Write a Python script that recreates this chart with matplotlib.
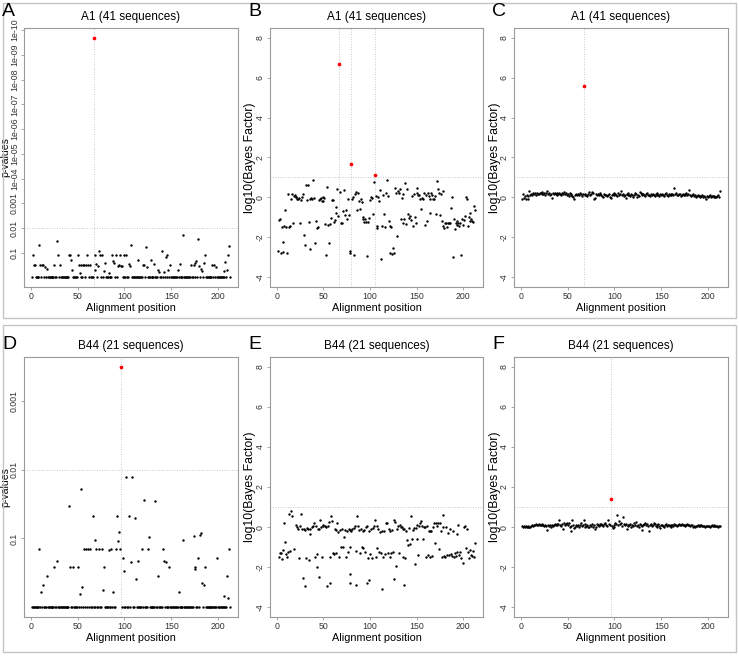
import matplotlib
matplotlib.use("Agg")
import matplotlib.pyplot as plt
from matplotlib.patches import Rectangle
import numpy as np

plt.rcParams['font.family'] = ['Liberation Sans', 'DejaVu Sans']

W, H = 739, 656

positions = np.arange(1, 214)

# ---- panel A: p-values, A1 (41 sequences); positions not listed have p = 1
a_pos = [2, 3, 4, 9, 10, 12, 13, 15, 17, 25, 28, 29, 31, 41, 42, 43, 44, 50, 51, 52,
         54, 56, 57, 59, 60, 61, 63, 67, 68, 69, 70, 72, 73, 74, 76, 78, 79, 83, 87, 88,
         89, 91, 93, 94, 95, 96, 97, 99, 102, 105, 106, 107, 115, 120, 121, 123, 124, 128, 132, 136,
         137, 140, 142, 144, 145, 147, 149, 157, 159, 163, 171, 174, 176, 177, 179, 180, 182, 183, 185, 186,
         194, 196, 198, 206, 208, 210, 211, 212]
a_pval = [0.13, 0.32, 0.32, 0.047, 0.32, 0.32, 0.32, 0.37, 0.44, 0.32, 0.035, 0.13, 0.32, 0.13, 0.13, 0.2, 0.48, 0.13, 0.32, 0.69,
          0.32, 0.32, 0.32, 0.32, 0.13, 0.32, 0.32, 2e-10, 0.13, 0.51, 0.28, 0.35, 0.089, 0.13, 0.13, 0.56, 0.25, 0.69, 0.13, 0.22,
          0.25, 0.13, 0.34, 0.32, 0.13, 0.34, 0.34, 0.13, 0.13, 0.28, 0.34, 0.047, 0.2, 0.32, 0.32, 0.059, 0.37, 0.19, 0.3, 0.51,
          0.63, 0.089, 0.63, 0.15, 0.13, 0.51, 0.32, 0.51, 0.28, 0.02, 0.32, 0.32, 0.25, 0.22, 0.028, 0.35, 0.44, 0.56, 0.25, 0.13,
          0.32, 0.32, 0.39, 0.56, 0.23, 0.51, 0.13, 0.056]

# ---- panel D: p-values, B44 (21 sequences); positions not listed have p = 1
d_pos = [9, 11, 13, 17, 25, 28, 41, 42, 45, 50, 52, 54, 55, 57, 59, 61, 63, 66, 68, 70,
         73, 76, 77, 78, 83, 86, 88, 91, 92, 93, 94, 95, 96, 98, 99, 102, 105, 107, 108, 111,
         112, 115, 119, 121, 125, 126, 133, 136, 141, 142, 144, 148, 158, 163, 174, 175, 176, 179, 181, 182,
         183, 185, 186, 199, 207, 210, 211, 212]
d_pval = [0.14, 0.59, 0.48, 0.35, 0.26, 0.21, 0.034, 0.26, 0.26, 0.26, 0.65, 0.019, 0.51, 0.14, 0.14, 0.14, 0.14, 0.047, 0.105, 0.14,
          0.14, 0.14, 0.56, 0.26, 0.145, 0.14, 0.59, 0.14, 0.047, 0.11, 0.081, 0.14, 3.2e-4, 0.195, 0.3, 0.0126, 0.047, 0.22, 0.0126, 0.05,
          0.39, 0.21, 0.14, 0.028, 0.14, 0.095, 0.029, 0.35, 0.14, 0.21, 0.22, 0.26, 0.59, 0.105, 0.093, 0.26, 0.28, 0.195, 0.089, 0.083,
          0.45, 0.47, 0.26, 0.195, 0.68, 0.35, 0.74, 0.14]

# ---- panel B: log10(Bayes Factor), A1, one value per position 1..213
b_bf = [-2.7, -1.15, -1.1, -2.8, -1.5, -2.25, -2.75, -1.45, -0.65, -1.5,
        -2.77, 0.15, -1.5, -1.45, -0.1, 0.15, -1.27, 0.05, 0.12, 0.03,
        0.0, -0.1, -0.07, -0.05, -1.27, -0.13, 0.03, 0.15, -1.9, -2.4,
        0.6, -0.13, 0.6, -1.23, -2.57, -0.07, -0.02, -0.07, 0.87, -0.02,
        -2.27, -1.18, -1.52, -1.47, -0.15, -0.07, -0.02, -0.18, 0.0, -0.18,
        -0.05, -1.35, -2.9, 0.5, -1.37, -2.27, -1.33, -1.05, -0.15, -0.15,
        -1.25, -1.13, -0.5, -0.8, 0.43, -0.92, 6.7, 0.27, -1.3, -1.27,
        -0.7, 0.35, -0.9, -0.63, -1.07, -0.1, -0.9, -2.68, -2.77, 1.65,
        -0.1, 0.03, -2.9, 0.18, 0.27, -0.63, 0.2, -0.18, -0.6, -0.07,
        -0.25, -0.97, -1.07, -1.23, -1.1, -1.25, -2.93, -1.23, -1.03, -0.13,
        0.03, -0.05, -0.85, 0.77, 1.1, 0.07, -1.43, -1.53, 0.03, -0.18,
        0.35, -3.1, -1.43, 0.1, -0.85, -1.5, 0.23, 0.87, 0.07, -1.18,
        -1.45, -2.77, -1.47, -2.85, -2.52, -2.77, 0.45, 0.23, -1.93, 0.32,
        0.2, 0.43, -1.07, -0.02, -1.3, 0.15, -1.07, 0.73, -1.35, 0.4,
        -0.85, -1.02, -0.93, -1.15, 0.07, -1.43, 0.15, -1.0, -1.3, 0.48,
        0.23, 0.1, 0.12, -0.1, -0.6, -0.02, -0.1, 0.2, -1.4, 0.1,
        -1.18, 0.23, 0.07, -0.77, -0.1, 0.23, 0.1, -0.07, -0.1, 0.07,
        -0.85, 0.82, 0.4, 0.23, -0.9, 0.15, -1.18, 0.32, -1.43, -1.52,
        -1.27, -1.27, -1.47, -1.3, -1.27, -1.27, -0.52, 0.0, -2.98, -1.1,
        -1.57, -1.27, -1.18, -1.38, -1.3, -1.43, -1.3, -2.9, -1.07, -1.4,
        -1.15, -0.93, 0.02, -0.07, -1.43, -0.98, -1.2, -0.77, -1.1, -1.18,
        -1.23, -0.43, -0.63]

# ---- panel C: log10(Bayes Factor), A1
c_bf = [-0.08, 0.15, -0.05, 0.05, -0.1, 0.1, -0.08, 0.05, 0.3, 0.12,
        0.18, 0.1, 0.2, 0.15, 0.22, 0.12, 0.2, 0.18, 0.15, 0.22,
        0.2, 0.15, 0.25, 0.18, 0.2, 0.12, 0.22, 0.3, 0.15, 0.2,
        0.1, 0.18, -0.05, 0.2, 0.15, 0.22, 0.18, 0.12, 0.2, 0.15,
        0.22, 0.18, 0.12, 0.2, 0.15, 0.25, 0.18, 0.2, 0.12, 0.15,
        0.05, 0.2, 0.1, 0.15, 0.05, 0.0, -0.08, 0.1, 0.15, 0.12,
        0.18, 0.1, 0.2, 0.15, 0.05, 0.18, 5.6, 0.12, 0.15, 0.1,
        0.05, 0.18, 0.25, 0.12, 0.15, 0.28, 0.2, -0.1, -0.05, 0.15,
        0.12, 0.18, 0.1, 0.15, 0.2, 0.12, 0.08, 0.0, 0.15, 0.1,
        0.12, 0.05, 0.1, 0.15, 0.0, -0.05, 0.12, 0.15, 0.1, 0.2,
        0.15, 0.1, 0.05, 0.2, 0.12, 0.18, 0.3, 0.1, 0.15, 0.05,
        0.1, -0.05, 0.15, 0.2, 0.1, 0.12, 0.05, 0.15, 0.1, 0.0,
        0.1, 0.22, 0.15, 0.0, 0.12, 0.05, 0.28, 0.2, 0.15, 0.1,
        0.18, 0.12, 0.05, 0.15, 0.2, 0.1, 0.12, 0.08, 0.15, 0.1,
        0.18, 0.12, 0.05, 0.15, 0.1, 0.2, 0.12, 0.05, 0.15, 0.1,
        0.18, 0.12, 0.05, 0.15, 0.2, 0.1, 0.08, 0.15, 0.1, 0.18,
        0.12, 0.15, 0.1, 0.45, 0.15, 0.2, 0.12, 0.1, 0.18, 0.15,
        0.05, 0.12, 0.18, 0.1, 0.15, 0.12, 0.2, 0.1, 0.15, 0.35,
        0.12, 0.05, 0.1, 0.15, 0.08, 0.12, 0.0, 0.05, 0.1, 0.05,
        0.0, 0.08, 0.05, 0.1, 0.02, 0.05, 0.0, -0.1, 0.05, 0.0,
        0.05, 0.1, 0.02, 0.05, 0.08, 0.0, 0.05, 0.02, 0.0, 0.05,
        0.1, 0.0, 0.3]

# ---- panel E: log10(Bayes Factor), B44
e_pos = [8, 13, 15, 16, 21, 22, 23, 25, 26, 27, 29, 30, 32, 33, 35, 36, 38, 39, 40, 42,
         44, 45, 46, 47, 49, 50, 52, 53, 55, 56, 58, 59, 62, 63, 65, 66, 68, 70, 72, 73,
         75, 77, 78, 80, 81, 83, 84, 86, 87, 88, 90, 92, 94, 96, 97, 99, 101, 103, 104, 105,
         107, 109, 111, 113, 115, 117, 118, 120, 122, 124, 126, 127, 129, 130, 132, 133, 134, 136, 137, 139,
         142, 144, 146, 147, 149, 151, 153, 154, 155, 156, 158, 159, 161, 163, 165, 166, 168, 169, 171, 172,
         173, 175, 176, 178, 179, 182, 184, 186, 189, 194, 195, 201, 202, 204,
         2, 3, 4, 5, 7, 9, 10, 12, 11, 14, 18, 24, 31, 34, 41, 43, 48, 57, 60, 61,
         64, 67, 69, 71, 74, 76, 79, 85, 89, 91, 93, 95, 98, 100, 102, 106, 108, 110, 112, 114,
         116, 119, 121, 123, 125, 128, 131, 135, 138, 140, 141, 143, 145, 148, 150, 152, 157, 160, 162, 164,
         167, 170, 174, 177, 180, 181, 183, 185, 187, 188, 190, 191, 192, 193, 196, 197, 198, 200, 203, 205,
         206, 207, 209, 210, 211, 212, 213,
         28, 30, 43, 45, 54, 57, 78, 79, 85, 97, 99, 113, 126, 137]
e_bf = [0.23, 0.67, 0.79, 0.53, 0.12, 0.0, -0.1, 0.07, 0.67, -0.1, -0.1, -0.13, -0.05, -0.1, -0.33, -0.1, 0.03, 0.07, 0.2, 0.07,
        -0.1, -0.1, 0.37, 0.03, 0.08, 0.12, 0.07, 0.03, 0.07, 0.28, 0.53, 0.33, -0.1, -0.13, 0.23, -0.22, -0.13, -0.1, -0.47, -0.13,
        -0.17, -0.1, -0.13, -0.17, -0.1, -0.05, 0.07, 0.53, 0.07, -0.13, -0.1, -0.17, -0.13, 0.03, 0.07, -0.17, -0.1, -0.05, 0.07, 0.37,
        0.07, -0.1, -0.22, -0.17, -0.17, 0.2, 0.23, -0.07, -0.17, -0.13, 0.37, 0.28, -0.1, 0.07, 0.12, 0.03, 0.0, -0.1, -0.1, -0.17,
        -0.05, 0.53, -0.13, -0.05, -0.05, 0.12, 0.07, 0.23, 0.33, 0.07, 0.0, 0.03, 0.07, -0.17, -0.17, -0.17, 0.0, 0.2, 0.23, 0.07,
        0.23, 0.23, -0.17, 0.0, 0.62, 0.0, -0.3, -0.1, -0.17, -0.35, 0.12, 0.03, 0.07, -0.08,
        -1.47, -1.3, -1.27, -1.59, -1.13, -0.72, -1.34, -1.22, -1.47, -1.19, -1.09, -1.52, -1.52, -1.64, -1.5, -1.34, -1.5, -1.5, -1.3, -1.34,
        -1.3, -1.5, -0.97, -0.97, -1.5, -1.24, -1.0, -1.17, -1.3, -0.97, -1.05, -1.22, -1.54, -1.34, -1.54, -1.47, -1.05, -1.24, -1.3, -1.5,
        -1.34, -1.27, -1.5, -1.3, -1.22, -1.94, -1.3, -1.5, -1.55, -0.63, -0.89, -0.84, -0.6, -1.84, -0.6, -1.39, -0.6, -1.5, -1.39, -1.47,
        -1.44, -0.8, -1.1, -1.47, -1.44, -1.5, -1.4, -1.39, -1.34, -1.44, -1.5, -1.3, -1.44, -1.22, -1.39, -1.22, -1.55, -1.8, -1.05, -1.22,
        -1.55, -1.14, -1.39, -1.44, -1.2, -1.47, -0.77,
        -2.52, -2.94, -1.97, -2.5, -2.94, -2.8, -2.36, -2.77, -2.89, -2.77, -2.64, -3.06, -2.59, -2.89]

# ---- panel F: log10(Bayes Factor), B44
f_bf = [0.05, 0.02, 0.08, 0.0, 0.05, 0.03, 0.0, 0.05, 0.02, 0.0,
        0.05, 0.1, 0.08, 0.12, 0.1, 0.15, 0.12, 0.1, 0.15, 0.12,
        0.1, 0.15, 0.12, 0.1, 0.08, 0.12, 0.05, -0.15, 0.1, 0.05,
        0.12, 0.0, 0.1, 0.05, 0.12, 0.15, 0.1, 0.18, 0.12, 0.15,
        0.38, 0.12, 0.05, 0.15, -0.1, 0.2, 0.1, 0.15, 0.22, 0.12,
        0.2, 0.0, -0.18, 0.05, 0.38, 0.1, -0.05, 0.0, 0.12, 0.05,
        0.1, 0.0, 0.12, 0.2, 0.05, 0.1, 0.35, 0.0, 0.15, 0.05,
        0.1, 0.02, 0.0, 0.12, 0.05, 0.15, 0.02, 0.1, -0.1, 0.0,
        0.15, 0.12, 0.05, 0.18, 0.1, 0.15, 0.12, 0.05, 0.15, 0.2,
        0.1, 0.05, 0.35, 0.15, 0.1, 1.4, 0.05, -0.05, 0.02, 0.1,
        0.2, 0.15, 0.58, 0.1, 0.3, 0.15, 0.2, 0.05, 0.52, 0.15,
        0.1, 0.15, -0.1, 0.12, 0.05, 0.1, 0.15, 0.02, 0.1, 0.05,
        0.2, 0.12, 0.25, 0.05, 0.1, 0.02, 0.15, 0.1, 0.05, -0.15,
        0.1, 0.15, 0.2, 0.1, 0.15, 0.05, -0.18, 0.1, 0.15, 0.05,
        0.1, 0.2, 0.15, 0.05, 0.02, 0.1, 0.15, 0.05, -0.05, 0.1,
        0.12, 0.05, 0.02, 0.1, 0.15, 0.05, 0.12, 0.1, 0.05, 0.02,
        0.1, 0.12, 0.05, 0.15, 0.1, 0.12, 0.08, 0.1, 0.15, 0.12,
        0.1, 0.15, 0.12, 0.1, 0.05, 0.12, 0.1, 0.15, 0.12, 0.1,
        0.05, 0.12, 0.1, 0.0, 0.05, 0.02, 0.08, 0.05, 0.1, 0.08,
        0.05, 0.12, 0.1, 0.05, 0.08, 0.05, 0.02, 0.05, 0.08, 0.05,
        0.05, 0.02, 0.08, 0.12, 0.05, 0.08, 0.1, 0.05, 0.08, 0.05,
        0.02, 0.05, 0.08]

titles = ["A1 (41 sequences)", "B44 (21 sequences)"]
letters = ["A", "B", "C", "D", "E", "F"]
p_ticklabels = ["0.1", "0.01", "0.001", "1e-04", "1e-05", "1e-06", "1e-07", "1e-08", "1e-09", "1e-10"]

fig = plt.figure(figsize=(W / 100, H / 100), dpi=100)

# grey frames round each row
for top, bot in [(3, 318), (325, 652)]:
    fig.patches.append(Rectangle((3 / W, 1 - bot / H), 733 / W, (bot - top) / H,
                                 transform=fig.transFigure, fill=False,
                                 edgecolor="#c4c4c4", linewidth=1.0))

col_lr = [(24, 238), (270, 483), (514, 728)]
row_tb = [(28, 287), (357, 617)]
letter_base = [16, 349]   # baseline (px from top) of the panel letters
GREY = "#9a9a9a"


def full_p(pos, pval):
    # every position gets p = 1 unless listed
    p = np.ones(len(positions))
    for x, v in zip(pos, pval):
        p[x - 1] = v
    return -np.log10(p)


def make_ax(r, c):
    l, rgt = col_lr[c]
    t, b = row_tb[r]
    ax = fig.add_axes([l / W, 1 - b / H, (rgt - l) / W, (b - t) / H])
    for s in ax.spines.values():
        s.set_color(GREY)
        s.set_linewidth(0.8)
    ax.tick_params(colors=GREY, labelcolor="#333333", labelsize=6.3, length=2.5, width=0.6, pad=1.2)
    ax.set_xlim(-7.48, 221.48)
    ax.set_xticks([0, 50, 100, 150, 200])
    ax.set_xlabel("Alignment position", fontsize=7.8, labelpad=1)
    fig.text(((l + rgt) / 2) / W, 1 - (t - 11) / H, titles[r], ha="center", va="center", fontsize=8.5)
    fig.text((l - 22) / W, 1 - letter_base[r] / H, letters[r * 3 + c], ha="left", va="baseline", fontsize=14)
    return ax


def draw(ax, x, y, thr):
    x = np.asarray(x)
    y = np.asarray(y)
    sig = y > thr
    ax.axhline(thr, color="#b8b8b8", linestyle=(0, (1, 2)), linewidth=0.6, zorder=1)
    for xv in x[sig]:
        ax.axvline(xv, color="#b8b8b8", linestyle=(0, (1, 2)), linewidth=0.6, zorder=1)
    ax.scatter(x[~sig], y[~sig], s=3, color="black", linewidths=0, zorder=3)
    ax.scatter(x[sig], y[sig], s=7, color="red", linewidths=0, zorder=4)


def p_axis(ax, L):
    top = L.max()
    ax.set_ylim(-0.04 * top, top * 1.04)
    ticks = [k for k in range(1, 11) if k <= top * 1.04]
    ax.set_yticks(ticks)
    ax.set_yticklabels(p_ticklabels[:len(ticks)], rotation=90, va="center")
    ax.set_ylabel("p-values", fontsize=7.6)
    ax.yaxis.set_label_coords(-0.062, 0.5)


def bf_axis(ax, xc):
    ax.set_ylim(-4.48, 8.48)
    ax.set_yticks([-4, -2, 0, 2, 4, 6, 8])
    ax.set_yticklabels(["-4", "-2", "0", "2", "4", "6", "8"], rotation=90, va="center")
    ax.set_ylabel("log10(Bayes Factor)", fontsize=8.8)
    ax.yaxis.set_label_coords(xc, 0.5)


axA = make_ax(0, 0)
LA = full_p(a_pos, a_pval)
draw(axA, positions, LA, 2)
p_axis(axA, LA)

axB = make_ax(0, 1)
draw(axB, positions, b_bf, 1)
bf_axis(axB, -0.066)

axC = make_ax(0, 2)
draw(axC, positions, c_bf, 1)
bf_axis(axC, -0.061)

axD = make_ax(1, 0)
LD = full_p(d_pos, d_pval)
draw(axD, positions, LD, 2)
p_axis(axD, LD)

axE = make_ax(1, 1)
draw(axE, e_pos, e_bf, 1)
bf_axis(axE, -0.066)

axF = make_ax(1, 2)
draw(axF, positions, f_bf, 1)
bf_axis(axF, -0.061)

fig.savefig("out.png", dpi=100)
